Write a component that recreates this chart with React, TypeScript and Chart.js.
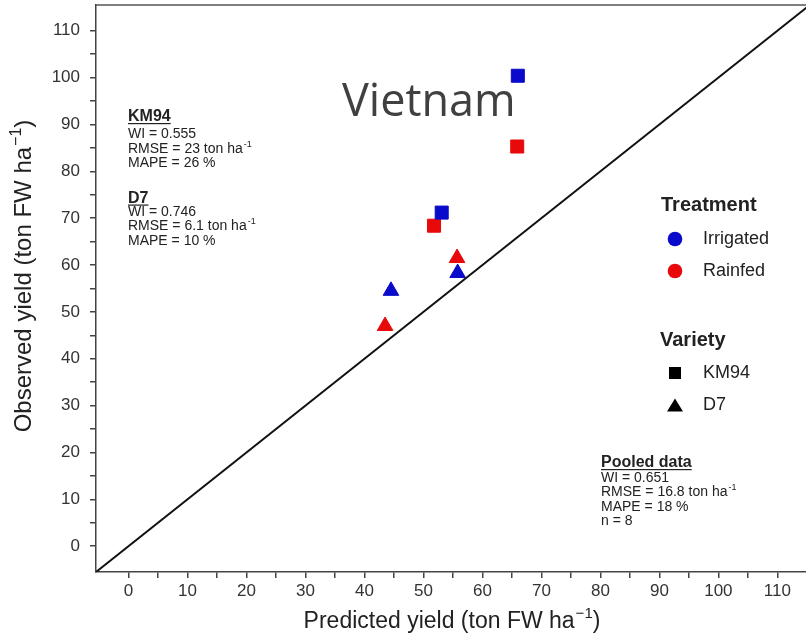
import React, { useEffect, useRef } from 'react';
import { Chart, registerables } from 'chart.js';

Chart.register(...registerables);

// ---- data ----
const TICK_VALUES = [0, 5, 10, 15, 20, 25, 30, 35, 40, 45, 50, 55, 60, 65, 70, 75, 80, 85, 90, 95, 100, 105, 110];
const LABEL_STEP = 10;

const KM94_IRRIGATED_X = [66.0, 53.1];
const KM94_IRRIGATED_Y = [100.4, 71.2];
const KM94_RAINFED_X = [65.9, 51.8];
const KM94_RAINFED_Y = [85.3, 68.4];
const D7_IRRIGATED_X = [55.8, 44.5];
const D7_IRRIGATED_Y = [58.3, 54.5];
const D7_RAINFED_X = [55.7, 43.5];
const D7_RAINFED_Y = [61.5, 47.0];

const ONE_TO_ONE = [-5.5, 115.5];

const X_MIN = -5.5;
const X_MAX = 114.85;
const Y_MIN = -5.5;
const Y_MAX = 115.5;

const BLUE = '#0a0acb';
const RED = '#e80a0a';
const FONT = '"Liberation Sans", Arial, Helvetica, sans-serif';
const TEXT = '#222222';
const AXIS = '#444444';

const toPts = (xs: number[], ys: number[]) => xs.map((x, i) => ({ x, y: ys[i] }));

function drawSup(ctx: CanvasRenderingContext2D, x: number, y: number, base: string, sup: string, tail: string, size: number, bold = false) {
  const f = `${bold ? 'bold ' : ''}${size}px ${FONT}`;
  const sf = `${Math.round(size * 0.65)}px ${FONT}`;
  ctx.font = f;
  ctx.fillText(base, x, y);
  let cx = x + ctx.measureText(base).width;
  if (sup) {
    ctx.font = sf;
    ctx.fillText(sup, cx + 1, y - size * 0.42);
    cx += ctx.measureText(sup).width + 1;
  }
  if (tail) {
    ctx.font = f;
    ctx.fillText(tail, cx, y);
  }
}

function widthSup(ctx: CanvasRenderingContext2D, base: string, sup: string, tail: string, size: number) {
  ctx.font = `${size}px ${FONT}`;
  let w = ctx.measureText(base).width + ctx.measureText(tail).width;
  ctx.font = `${Math.round(size * 0.65)}px ${FONT}`;
  w += ctx.measureText(sup).width + 1;
  return w;
}

function header(ctx: CanvasRenderingContext2D, text: string, x: number, y: number, size: number) {
  ctx.font = `bold ${size}px ${FONT}`;
  ctx.fillText(text, x, y);
  const w = ctx.measureText(text).width;
  ctx.fillRect(x, y + 2, w, 1.2);
}

const annotPlugin = {
  id: 'annot',
  afterDraw(chart: any) {
    const ctx: CanvasRenderingContext2D = chart.ctx;
    const { left, right, top } = chart.chartArea;
    ctx.save();
    // top frame line
    ctx.strokeStyle = '#555555';
    ctx.lineWidth = 1.5;
    ctx.beginPath();
    ctx.moveTo(left, top);
    ctx.lineTo(right, top);
    ctx.stroke();

    ctx.fillStyle = TEXT;
    ctx.textAlign = 'left';
    ctx.textBaseline = 'alphabetic';

    // KM94 block
    header(ctx, 'KM94', 128, 121, 16);
    ctx.font = `14px ${FONT}`;
    ctx.fillText('WI = 0.555', 128, 137.5);
    drawSup(ctx, 128, 152.5, 'RMSE = 23 ton ha', '-1', '', 14);
    ctx.font = `14px ${FONT}`;
    ctx.fillText('MAPE = 26 %', 128, 167);

    // D7 block
    header(ctx, 'D7', 128, 202.5, 16);
    ctx.font = `14px ${FONT}`;
    ctx.fillText('WI = 0.746', 128, 215.5);
    drawSup(ctx, 128, 230, 'RMSE = 6.1 ton ha', '-1', '', 14);
    ctx.font = `14px ${FONT}`;
    ctx.fillText('MAPE = 10 %', 128, 244.5);

    // Pooled block
    header(ctx, 'Pooled data', 601, 467, 16);
    ctx.font = `14px ${FONT}`;
    ctx.fillText('WI = 0.651', 601, 481.5);
    drawSup(ctx, 601, 496, 'RMSE = 16.8 ton ha', '-1', '', 14);
    ctx.font = `14px ${FONT}`;
    ctx.fillText('MAPE = 18 %', 601, 511);
    ctx.fillText('n = 8', 601, 525);

    // legend
    ctx.font = `bold 20px ${FONT}`;
    ctx.fillText('Treatment', 661, 211);
    ctx.fillText('Variety', 660, 345.5);
    ctx.font = `18px ${FONT}`;
    ctx.textBaseline = 'middle';
    ctx.fillText('Irrigated', 703, 239.5);
    ctx.fillText('Rainfed', 703, 271.5);
    ctx.fillText('KM94', 703, 373.5);
    ctx.fillText('D7', 703, 405.5);
    ctx.beginPath();
    ctx.fillStyle = BLUE;
    ctx.arc(675, 239, 7.3, 0, Math.PI * 2);
    ctx.fill();
    ctx.beginPath();
    ctx.fillStyle = RED;
    ctx.arc(675, 271, 7.3, 0, Math.PI * 2);
    ctx.fill();
    ctx.fillStyle = '#000000';
    ctx.fillRect(669, 367, 12, 12);
    ctx.beginPath();
    ctx.moveTo(675, 398.5);
    ctx.lineTo(683, 411.5);
    ctx.lineTo(667, 411.5);
    ctx.closePath();
    ctx.fill();

    // Vietnam
    ctx.textBaseline = 'alphabetic';
    ctx.fillStyle = '#404040';
    ctx.font = `45px "Open Sans", "Noto Sans", sans-serif`;
    ctx.fillText('Vietnam', 342, 116);

    // axis titles
    ctx.fillStyle = TEXT;
    const xs = 23;
    const xw = widthSup(ctx, 'Predicted yield (ton FW ha', '\u22121', ')', xs);
    drawSup(ctx, 452 - xw / 2, 628, 'Predicted yield (ton FW ha', '\u22121', ')', xs);
    const ys = 24;
    const yw = widthSup(ctx, 'Observed yield (ton FW ha', '\u22121', ')', ys);
    ctx.translate(31, 276);
    ctx.rotate(-Math.PI / 2);
    drawSup(ctx, -yw / 2, 0, 'Observed yield (ton FW ha', '\u22121', ')', ys);
    ctx.restore();
  },
};

export default function App() {
  const ref = useRef<HTMLCanvasElement>(null);
  useEffect(() => {
    if (!ref.current) return;
    const tickSetter = (scale: any) => {
      scale.ticks = TICK_VALUES.map((v) => ({ value: v }));
    };
    const tickCb = (v: any) => (Number(v) % LABEL_STEP === 0 ? String(v) : '');
    const chart = new Chart(ref.current, {
      type: 'scatter',
      data: {
        datasets: [
          {
            type: 'line',
            label: '1:1',
            data: toPts(ONE_TO_ONE, ONE_TO_ONE),
            borderColor: '#111111',
            borderWidth: 2,
            pointRadius: 0,
            fill: false,
          } as any,
          {
            label: 'KM94 Irrigated',
            data: toPts(KM94_IRRIGATED_X, KM94_IRRIGATED_Y),
            pointStyle: 'rect',
            pointRadius: 9.2,
            backgroundColor: BLUE,
            borderColor: BLUE,
            borderWidth: 1,
          },
          {
            label: 'KM94 Rainfed',
            data: toPts(KM94_RAINFED_X, KM94_RAINFED_Y),
            pointStyle: 'rect',
            pointRadius: 9.2,
            backgroundColor: RED,
            borderColor: RED,
            borderWidth: 1,
          },
          {
            label: 'D7 Irrigated',
            data: toPts(D7_IRRIGATED_X, D7_IRRIGATED_Y),
            pointStyle: 'triangle',
            pointRadius: 9,
            backgroundColor: BLUE,
            borderColor: BLUE,
            borderWidth: 1,
          },
          {
            label: 'D7 Rainfed',
            data: toPts(D7_RAINFED_X, D7_RAINFED_Y),
            pointStyle: 'triangle',
            pointRadius: 9,
            backgroundColor: RED,
            borderColor: RED,
            borderWidth: 1,
          },
        ],
      },
      options: {
        responsive: false,
        animation: false,
        devicePixelRatio: 1,
        layout: { autoPadding: false, padding: { top: 5, right: 0, bottom: 0, left: 0 } },
        plugins: { legend: { display: false }, tooltip: { enabled: false }, title: { display: false } },
        scales: {
          x: {
            type: 'linear',
            min: X_MIN,
            max: X_MAX,
            afterBuildTicks: tickSetter,
            afterFit: (s: any) => {
              s.height = 62;
              s.paddingLeft = 0;
              s.paddingRight = 0;
            },
            grid: { drawOnChartArea: false, drawTicks: true, tickLength: 6, color: AXIS, lineWidth: 1.5 },
            border: { display: true, color: AXIS, width: 1.5 },
            ticks: { autoSkip: false, maxRotation: 0, padding: 3, color: '#333333', font: { family: FONT, size: 17 }, callback: tickCb },
          },
          y: {
            type: 'linear',
            min: Y_MIN,
            max: Y_MAX,
            afterBuildTicks: tickSetter,
            afterFit: (s: any) => {
              s.width = 96;
              s.paddingTop = 0;
              s.paddingBottom = 0;
            },
            grid: { drawOnChartArea: false, drawTicks: true, tickLength: 6, color: AXIS, lineWidth: 1.5 },
            border: { display: true, color: AXIS, width: 1.5 },
            ticks: { autoSkip: false, padding: 10, color: '#333333', font: { family: FONT, size: 17 }, callback: tickCb },
          },
        },
      },
      plugins: [annotPlugin],
    });
    return () => chart.destroy();
  }, []);
  return (
    <div style={{ position: 'absolute', left: 0, top: 0, width: 806, height: 634, background: '#fff' }}>
      <canvas ref={ref} width={806} height={634} style={{ display: 'block' }} />
    </div>
  );
}
